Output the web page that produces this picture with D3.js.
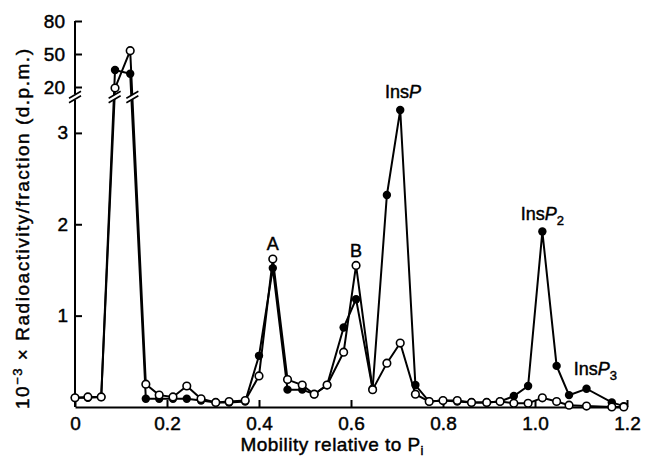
<!DOCTYPE html>
<html>
<head>
<meta charset="utf-8">
<script src="https://cdn.jsdelivr.net/npm/d3@7"></script>
<style>
  body { margin: 0; background: #fff; }
  svg { font-family: "Liberation Sans", Arial, Helvetica, sans-serif; }
  svg text { fill: #000; stroke: #000; stroke-width: 0.45px; }
</style>
</head>
<body>
<svg width="647" height="460"></svg>
<script>
// fraction positions (mobility relative to Pi)
var mobility = [0, 0.028, 0.057, 0.087, 0.12, 0.154, 0.183, 0.213, 0.243, 0.274,
  0.306, 0.335, 0.37, 0.40, 0.43, 0.462, 0.494, 0.52, 0.548, 0.584,
  0.611, 0.647, 0.678, 0.707, 0.74, 0.77, 0.80, 0.831, 0.862, 0.895,
  0.924, 0.954, 0.985, 1.016, 1.047, 1.074, 1.112, 1.167, 1.193];
// open circles
var openVals = [0.10, 0.11, 0.11, 19, 53, 0.25, 0.13, 0.11, 0.23, 0.09,
  0.05, 0.06, 0.07, 0.34, 1.62, 0.30, 0.24, 0.14, 0.24, 0.60,
  1.55, 0.19, 0.48, 0.70, 0.14, 0.06, 0.07, 0.07, 0.05, 0.05,
  0.06, 0.04, 0.04, 0.10, 0.06, 0.02, 0.01, 0.0, 0.0];
// filled circles
var filledVals = [0.10, 0.10, 0.11, 35.5, 32, 0.09, 0.09, 0.09, 0.09, 0.07,
  0.05, 0.05, 0.06, 0.56, 1.52, 0.19, 0.19, 0.14, 0.24, 0.87,
  1.18, 0.20, 2.32, 3.25, 0.24, 0.06, 0.07, 0.06, 0.05, 0.05,
  0.06, 0.12, 0.23, 1.92, 0.45, 0.13, 0.20, 0.05, 0.01];

var xTicks = [0, 0.2, 0.4, 0.6, 0.8, 1.0, 1.2];
var lowerTicks = [1, 2, 3];
var upperTicks = [20, 50, 80];

// peak labels (anchored in data units)
var peakLabels = [
  { main: 'A', sub: '', m: 0.43, v: 1.72 },
  { main: 'B', sub: '', m: 0.611, v: 1.64 },
  { main: 'Ins', ital: 'P', sub: '', m: 0.713, v: 3.38 },
  { main: 'Ins', ital: 'P', sub: '2', m: 1.016, v: 2.05 },
  { main: 'Ins', ital: 'P', sub: '3', m: 1.131, v: 0.35 }
];

var svg = d3.select('svg');
var breakY = 97;

var xScale = d3.scaleLinear().domain([0, 1.2]).range([75, 627]);
// broken y axis: lower part 0-3.36, upper part 20-80
var yLower = d3.scaleLinear().domain([0, 3.36]).range([407, 100]);
var yUpper = d3.scaleLinear().domain([20, 80]).range([87, 21]);
function yPos(v) {
  return v > 10 ? yUpper(v) : yLower(v);
}

// x axis
var xAxis = svg.append('g')
  .attr('transform', 'translate(0,' + yLower(0) + ')')
  .call(d3.axisBottom(xScale)
    .tickValues(xTicks)
    .tickSizeInner(-7)
    .tickSizeOuter(0)
    .tickPadding(10)
    .tickFormat(function (d) { return d === 0 ? '0' : d3.format('.1f')(d); }));
xAxis.selectAll('line, path').attr('stroke', '#000').attr('stroke-width', 2);

// y axis, lower part
var yAxisLow = svg.append('g')
  .attr('transform', 'translate(' + xScale(0) + ',0)')
  .call(d3.axisLeft(yLower).tickValues(lowerTicks).tickFormat(d3.format('d'))
    .tickSizeInner(-7).tickSizeOuter(0).tickPadding(7));
yAxisLow.select('.domain').remove();
// y axis, upper part
var yAxisUp = svg.append('g')
  .attr('transform', 'translate(' + xScale(0) + ',0)')
  .call(d3.axisLeft(yUpper).tickValues(upperTicks).tickFormat(d3.format('d'))
    .tickSizeInner(-7).tickSizeOuter(0).tickPadding(10));
yAxisUp.select('.domain').remove();
svg.selectAll('g text').attr('font-size', 19);
svg.selectAll('g line').attr('stroke', '#000').attr('stroke-width', 2);

svg.append('line')
  .attr('x1', xScale(0)).attr('x2', xScale(0))
  .attr('y1', yLower(0)).attr('y2', breakY + 3)
  .attr('stroke', '#000').attr('stroke-width', 2);
svg.append('line')
  .attr('x1', xScale(0)).attr('x2', xScale(0))
  .attr('y1', breakY - 3).attr('y2', yUpper(80))
  .attr('stroke', '#000').attr('stroke-width', 2);

// series lines
var line = d3.line()
  .x(function (d) { return xScale(d[0]); })
  .y(function (d) { return yPos(d[1]); });

var filledData = mobility.map(function (m, i) { return [m, filledVals[i]]; });
var openData = mobility.map(function (m, i) { return [m, openVals[i]]; });

svg.append('path').datum(filledData)
  .attr('d', line).attr('fill', 'none').attr('stroke', '#000').attr('stroke-width', 2);
svg.append('path').datum(openData)
  .attr('d', line).attr('fill', 'none').attr('stroke', '#000').attr('stroke-width', 2);

// break marks where the open series crosses the gap, plus on the axis
var breakXs = [xScale(0)];
for (var i = 1; i < openData.length; i++) {
  var y0 = yPos(openData[i - 1][1]), y1 = yPos(openData[i][1]);
  if ((y0 - breakY) * (y1 - breakY) < 0) {
    var x0 = xScale(openData[i - 1][0]), x1 = xScale(openData[i][0]);
    breakXs.push(x0 + (breakY - y0) / (y1 - y0) * (x1 - x0));
  }
}
var breaks = svg.append('g');
breakXs.forEach(function (bx) {
  breaks.append('line')
    .attr('x1', bx - 6).attr('y1', breakY + 4.5)
    .attr('x2', bx + 6).attr('y2', breakY - 4.5)
    .attr('stroke', '#fff').attr('stroke-width', 4);
  [-2.2, 2.2].forEach(function (off) {
    breaks.append('line')
      .attr('x1', bx - 6).attr('y1', breakY + 3.5 + off)
      .attr('x2', bx + 6).attr('y2', breakY - 3.5 + off)
      .attr('stroke', '#000').attr('stroke-width', 1.6);
  });
});

// markers: filled first, open on top
svg.append('g').selectAll('circle')
  .data(filledData).enter().append('circle')
  .attr('cx', function (d) { return xScale(d[0]); })
  .attr('cy', function (d) { return yPos(d[1]); })
  .attr('r', 4.2)
  .attr('fill', '#000');
svg.append('g').selectAll('circle')
  .data(openData).enter().append('circle')
  .attr('cx', function (d) { return xScale(d[0]); })
  .attr('cy', function (d) { return yPos(d[1]); })
  .attr('r', 3.8)
  .attr('fill', '#fff').attr('stroke', '#000').attr('stroke-width', 1.6);

// peak labels
peakLabels.forEach(function (p) {
  var t = svg.append('text')
    .attr('x', xScale(p.m)).attr('y', yLower(p.v))
    .attr('text-anchor', 'middle').attr('font-size', 18);
  t.append('tspan').text(p.main);
  if (p.ital) t.append('tspan').attr('font-style', 'italic').text(p.ital);
  if (p.sub) t.append('tspan').attr('font-size', 13).attr('dy', 5).text(p.sub);
});

// axis titles
var xTitle = svg.append('text')
  .attr('x', 332).attr('y', 451)
  .attr('text-anchor', 'middle').attr('font-size', 19)
  .attr('textLength', 183).attr('lengthAdjust', 'spacing');
xTitle.append('tspan').text('Mobility relative to P');
xTitle.append('tspan').attr('font-size', 13).attr('dy', 4).text('i');

var yTitle = svg.append('text')
  .attr('transform', 'translate(29,229) rotate(-90)')
  .attr('text-anchor', 'middle').attr('font-size', 19)
  .attr('textLength', 360).attr('lengthAdjust', 'spacing');
yTitle.append('tspan').text('10');
yTitle.append('tspan').attr('font-size', 13).attr('dy', -7).text('\u22123');
yTitle.append('tspan').attr('dy', 7).text(' \u00d7 Radioactivity/fraction (d.p.m.)');
</script>
</body>
</html>
